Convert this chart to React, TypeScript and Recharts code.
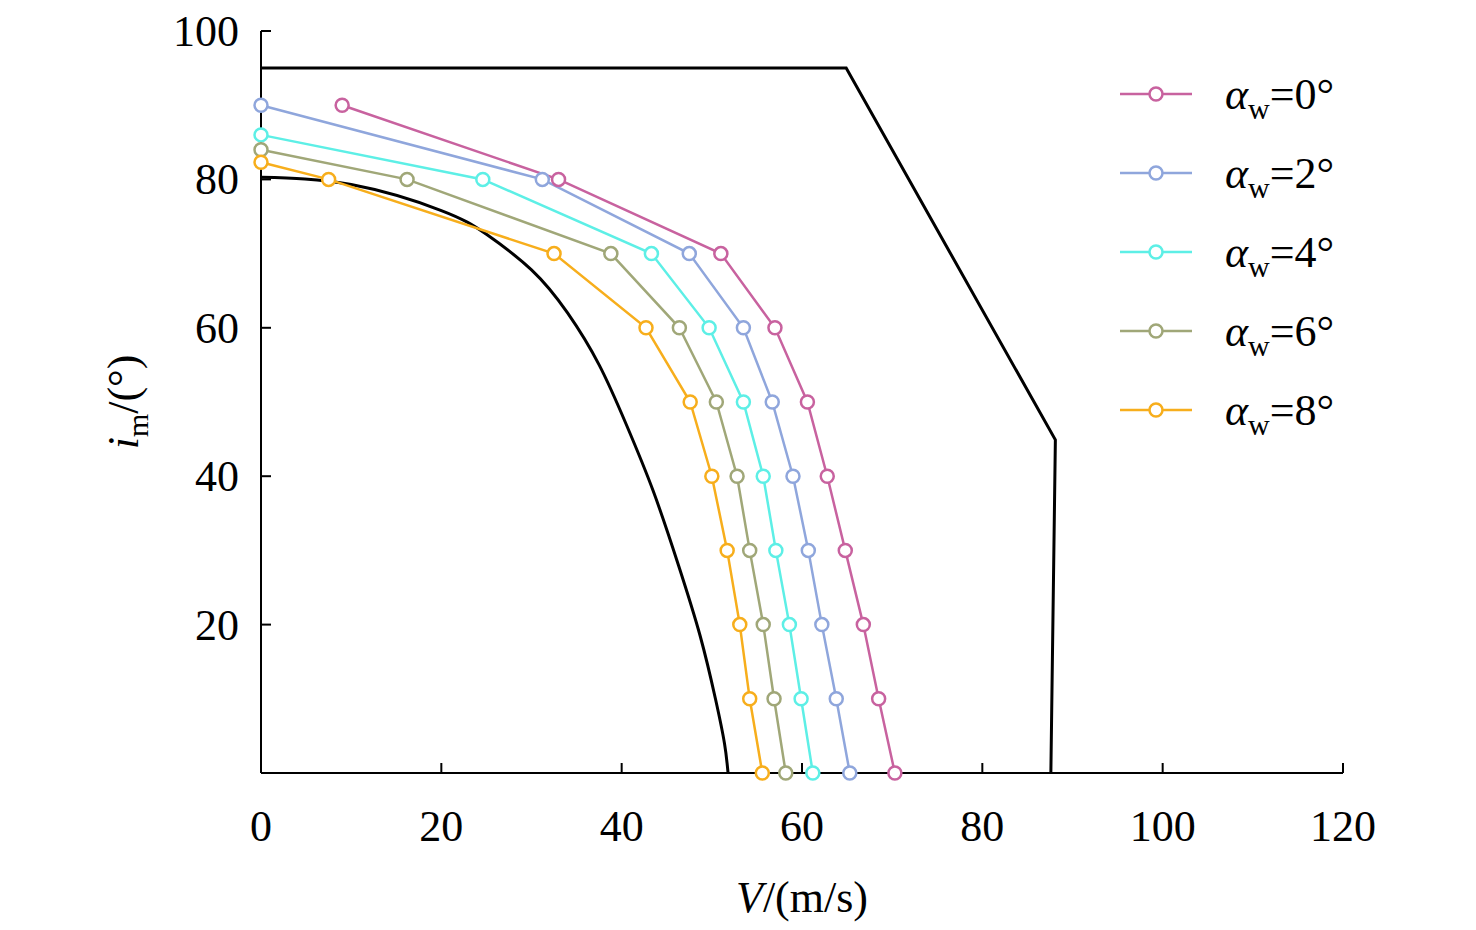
import React from "react";
import { LineChart, Line, XAxis, YAxis } from "recharts";

const angles = [0, 2, 4, 6, 8];
const colors = ["#C8629F", "#8FA6DC", "#5DEFE6", "#A0A778", "#F7AE1C"];
const ticksX = [0, 20, 40, 60, 80, 100, 120];
const ticksY = [0, 20, 40, 60, 80, 100];
const levels = [80, 70, 60, 50, 40, 30, 20, 10, 0];

// V at each incidence level (first point has its own y)
const firstPoints = [
  [9.0, 90],
  [0, 90],
  [0, 86],
  [0, 84],
  [0, 82.3],
];
const speeds = [
  [33.0, 51.0, 57.0, 60.6, 62.8, 64.8, 66.8, 68.5, 70.3],
  [31.2, 47.5, 53.5, 56.7, 59.0, 60.7, 62.2, 63.8, 65.3],
  [24.6, 43.3, 49.7, 53.5, 55.7, 57.1, 58.6, 59.9, 61.2],
  [16.2, 38.8, 46.4, 50.5, 52.8, 54.2, 55.7, 56.9, 58.2],
  [7.5, 32.5, 42.7, 47.6, 50.0, 51.7, 53.1, 54.2, 55.6],
];

const outerBound = [
  { v: 0, i: 95 },
  { v: 64.9, i: 95 },
  { v: 88.1, i: 44.9 },
  { v: 87.6, i: 0 },
];
const innerBound = [
  { v: 0, i: 80.3 },
  { v: 10, i: 79.3 },
  { v: 20, i: 75.8 },
  { v: 25, i: 72.6 },
  { v: 30, i: 67.8 },
  { v: 34, i: 62 },
  { v: 37.5, i: 55 },
  { v: 40.5, i: 47 },
  { v: 43.5, i: 38 },
  { v: 46.3, i: 28 },
  { v: 48.7, i: 18.5 },
  { v: 50.4, i: 10 },
  { v: 51.4, i: 4 },
  { v: 51.8, i: 0 },
];

const series = angles.map((a, k) => ({
  name: a,
  color: colors[k],
  data: [
    { v: firstPoints[k][0], i: firstPoints[k][1] },
    ...levels.map((l, j) => ({ v: speeds[k][j], i: l })),
  ],
}));

const font = "'Liberation Serif', 'Times New Roman', serif";

const XTick = (p: any) => (
  <g>
    <line x1={p.x} y1={p.y} x2={p.x} y2={p.y - 10} stroke="#000" strokeWidth={2} />
    <text x={p.x} y={p.y + 68} textAnchor="middle" fontSize={44} fontFamily={font} fill="#000">
      {p.payload.value}
    </text>
  </g>
);

const YTick = (p: any) => (
  <g>
    <line x1={p.x} y1={p.y} x2={p.x + 10} y2={p.y} stroke="#000" strokeWidth={2} />
    {p.payload.value !== 0 && (
      <text x={p.x - 22} y={p.y + 15} textAnchor="end" fontSize={44} fontFamily={font} fill="#000">
        {p.payload.value}
      </text>
    )}
  </g>
);

export default function App() {
  return (
    <div style={{ position: "relative", width: 1476, height: 930, margin: -8, background: "#fff" }}>
      <LineChart width={1476} height={930} margin={{ top: 31, right: 133, bottom: 156, left: 260 }}>
        <XAxis
          type="number"
          dataKey="v"
          domain={[0, 120]}
          ticks={ticksX}
          height={1}
          tickSize={0}
          tickMargin={0}
          tickLine={false}
          tick={<XTick />}
          axisLine={{ stroke: "#000", strokeWidth: 2 }}
          label={{
            content: () => (
              <text x={802} y={912} textAnchor="middle" fontSize={44} fontFamily={font} fill="#000">
                <tspan fontStyle="italic">V</tspan>/(m/s)
              </text>
            ),
          }}
        />
        <YAxis
          type="number"
          dataKey="i"
          domain={[0, 100]}
          ticks={ticksY}
          width={1}
          tickSize={0}
          tickMargin={0}
          tickLine={false}
          tick={<YTick />}
          axisLine={{ stroke: "#000", strokeWidth: 2 }}
          label={{
            content: () => (
              <text transform="translate(138,402) rotate(-90)" textAnchor="middle" fontSize={44} fontFamily={font} fill="#000">
                <tspan fontStyle="italic">i</tspan>
                <tspan fontSize={30} dy={10}>m</tspan>
                <tspan dy={-10}>/(°)</tspan>
              </text>
            ),
          }}
        />
        <Line data={outerBound} dataKey="i" type="linear" stroke="#000" strokeWidth={3} dot={false} isAnimationActive={false} />
        <Line data={innerBound} dataKey="i" type="natural" stroke="#000" strokeWidth={3} dot={false} isAnimationActive={false} />
        {series.map((s) => (
          <Line
            key={s.name}
            data={s.data}
            dataKey="i"
            type="linear"
            stroke={s.color}
            strokeWidth={2.5}
            dot={{ r: 6.5, stroke: s.color, strokeWidth: 2.5, fill: "#fff" }}
            isAnimationActive={false}
          />
        ))}
      </LineChart>
      <svg width={1476} height={930} style={{ position: "absolute", left: 0, top: 0, pointerEvents: "none" }}>
        {series.map((s, k) => {
          const y = 94 + k * 79;
          return (
            <g key={s.name}>
              <line x1={1120} x2={1192} y1={y} y2={y} stroke={s.color} strokeWidth={2.5} />
              <circle cx={1156} cy={y} r={6.5} fill="#fff" stroke={s.color} strokeWidth={2.5} />
              <text x={1225} y={y + 15} fontSize={44} fontFamily={font} fill="#000">
                <tspan fontStyle="italic">α</tspan>
                <tspan fontSize={30} dy={10}>w</tspan>
                <tspan dy={-10}>={s.name}°</tspan>
              </text>
            </g>
          );
        })}
      </svg>
    </div>
  );
}
